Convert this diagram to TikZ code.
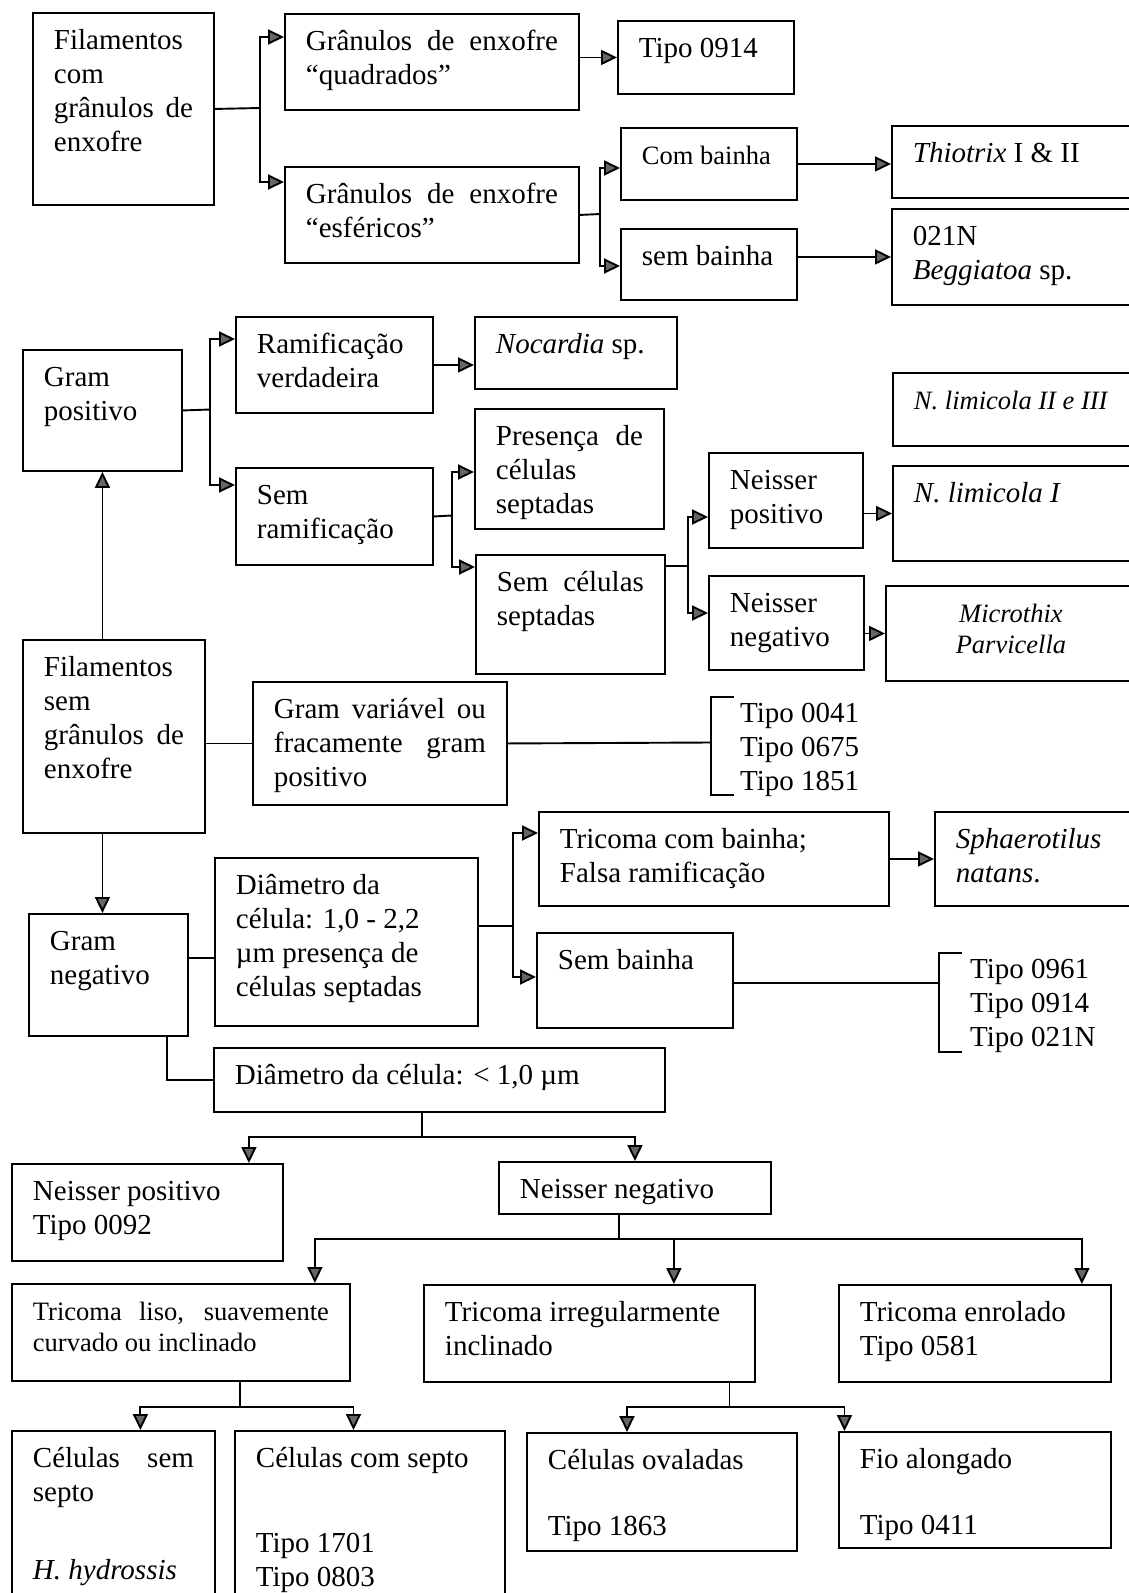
\documentclass[tikz,border=0pt]{standalone}
\usepackage{fontspec}
\setmainfont{Liberation Serif}
\usetikzlibrary{arrows.meta}

\begin{document}
\begin{tikzpicture}[x=1pt,y=-1pt,
  caixa/.style={draw,line width=1.9pt,anchor=north west,inner xsep=21pt,inner ysep=0pt,
    font=\fontsize{29}{34}\selectfont},
  lista/.style={anchor=north west,inner sep=0pt,align=left,font=\fontsize{29}{34}\selectfont},
  linha/.style={line width=1.9pt},
  seta/.style={line width=1.9pt,-{Triangle[length=16pt,width=15pt,fill=black!60]}}]
  \def\caixa#1(#2,#3)(#4,#5)#6{%
    \node[caixa] (#1) at (#2,#3) {\parbox[t][\dimexpr#5pt-#3pt\relax][t]{\dimexpr#4pt-#2pt-42pt\relax}{\rule{0pt}{37pt}#6}};}
  \def\js#1{\makebox[\linewidth][s]{#1}}   % linha justificada
  \def\pq{\fontsize{26.5}{31}\selectfont}
  \useasboundingbox (0,0) rectangle (1128,1593);

  % com enxofre
  \caixa{filcom}(32,12)(213,204){Filamentos\\com\\\js{grânulos de}\\enxofre}
  \caixa{quadr}(284,13)(578,109){\js{Grânulos de enxofre}\\“quadrados”}
  \caixa{esfer}(284,166)(578,262){\js{Grânulos de enxofre}\\“esféricos”}
  \caixa{tipoa}(617,20)(793,93){Tipo 0914}
  \caixa{combai}(620,127)(796,199){\pq Com bainha}
  \caixa{sembai}(620,228)(796,299){sem bainha}
  \caixa{thio}(891,125)(1140,197){\textit{Thiotrix} I \& II}
  \caixa{begg}(891,208)(1140,304){021N\\\textit{Beggiatoa} sp.}

  % gram positivo
  \caixa{gpos}(22,349)(181,470){Gram\\positivo}
  \caixa{ram}(235,316)(432,412){Ramificação\\verdadeira}
  \caixa{noc}(474,316)(676,388){\textit{Nocardia} sp.}
  \caixa{semram}(235,467)(432,564){Sem\\ramificação}
  \caixa{pres}(474,408)(663,528){\js{Presença de}\\células\\septadas}
  \caixa{semcel}(475,554)(664,673){\js{Sem células}\\septadas}
  \caixa{npos}(708,452)(862,547){Neisser\\positivo}
  \caixa{nneg}(708,575)(863,669){Neisser\\negativo}
  \caixa{nlimb}(892,372)(1140,445){\pq\textit{N. limicola II e III}}
  \caixa{nlima}(892,465)(1140,560){\textit{N. limicola I}}
  \caixa{micro}(885,585)(1135,680){\pq\centering\textit{Microthix}\\\textit{Parvicella}}

  % sem enxofre
  \caixa{fsem}(22,639)(204,832){Filamentos\\sem\\\js{grânulos de}\\enxofre}
  \caixa{gvar}(252,681)(506,804){\js{Gram variável ou}\\\js{fracamente gram}\\positivo}
  \caixa{gneg}(28,913)(187,1035){Gram\\negativo}
  \caixa{diam}(214,857)(477,1025){Diâmetro da\\célula: 1,0 - 2,2\\µm presença de\\células septadas}
  \caixa{trbai}(538,811)(888,905){Tricoma com bainha;\\Falsa ramificação}
  \caixa{sphae}(934,811)(1140,905){\textit{Sphaerotilus}\\\textit{natans}.}
  \caixa{sbai}(536,932)(732,1027){Sem bainha}
  \caixa{diamb}(213,1047)(664,1111){Diâmetro da célula: < 1,0 µm}
  \caixa{nposb}(11,1163)(282,1260){Neisser positivo\\Tipo 0092}
  \caixa{nnegb}(498,1161)(770,1213){Neisser negativo}
  \caixa{trliso}(11,1283)(349,1380){\pq\js{Tricoma liso, suavemente}\\curvado ou inclinado}
  \caixa{trirr}(423,1284)(754,1381){Tricoma irregularmente\\inclinado}
  \caixa{trenr}(838,1284)(1110,1381){Tricoma enrolado\\Tipo 0581}
  \caixa{csem}(11,1430)(214,1610){\js{Células sem}\\septo\\[44pt]\textit{H. hydrossis}}
  \caixa{ccom}(234,1430)(504,1610){Células com septo\\[51pt]Tipo 1701\\Tipo 0803}
  \caixa{coval}(526,1432)(796,1550){Células ovaladas\\[32pt]Tipo 1863}
  \caixa{fio}(838,1431)(1110,1547){Fio alongado\\[32pt]Tipo 0411}

  \node[lista] (tiposa) at (740,685) {\rule{0pt}{37pt}Tipo 0041\\Tipo 0675\\Tipo 1851};
  \node[lista] (tiposb) at (970,941) {\rule{0pt}{37pt}Tipo 0961\\Tipo 0914\\Tipo 021N};

  % ligacoes
  \coordinate (ja) at (260,108);
  \draw[linha] (filcom.east) -- (ja);
  \draw[seta] (ja) |- ([yshift=-24pt]quadr.north west);
  \draw[seta] (ja) |- ([yshift=-16pt]esfer.north west);
  \draw[seta] (quadr.east |- tipoa.west) -- (tipoa.west);
  \coordinate (jb) at (600,214);
  \draw[linha] (esfer.east) -- (jb);
  \draw[seta] (jb) |- ([yshift=-41pt]combai.north west);
  \draw[seta] (jb) |- ([yshift=-38pt]sembai.north west);
  \draw[seta] (combai.east) -- (combai.east -| thio.west);
  \draw[seta] (sembai.east |- begg.west) -- (begg.west);

  \coordinate (jc) at (210,409.5);
  \draw[linha] (gpos.east) -- (jc);
  \draw[seta] (jc) |- ([yshift=-23pt]ram.north west);
  \draw[seta] (jc) |- ([yshift=-18pt]semram.north west);
  \draw[seta] (ram.east) -- (ram.east -| noc.west);
  \coordinate (jd) at (452,515.5);
  \draw[linha] (semram.east) -- (jd);
  \draw[seta] (jd) |- ([yshift=-64pt]pres.north west);
  \draw[seta] (jd) |- ([yshift=-13pt]semcel.north west);
  \coordinate (je) at (688,566);
  \draw[linha] (semcel.east |- je) -- (je);
  \draw[seta] (je) |- ([yshift=-65pt]npos.north west);
  \draw[seta] (je) |- ([yshift=-38pt]nneg.north west);
  \draw[seta] (npos.east |- nlima.west) -- (nlima.west);
  \draw[seta] (nneg.east |- micro.west) -- (micro.west);

  \draw[seta] (gpos.south |- fsem.north) -- (gpos.south);
  \draw[linha] (fsem.east |- gvar.west) -- (gvar.west);
  \coordinate (ca) at (711,742.5);
  \draw[linha] (gvar.east) -- (ca);
  \draw[linha] ([xshift=23pt,yshift=45.5pt]ca) -| ([yshift=-52.5pt]ca) -- ++(23,0);

  \draw[seta] (fsem.south -| gpos.south) -- (gneg.north -| gpos.south);
  \coordinate (jg) at (200,958);
  \draw[linha] (gneg.east |- jg) -- (diam.west |- jg);
  \coordinate (jh) at (513,926);
  \draw[linha] (diam.east |- jh) -- (jh);
  \draw[seta] (jh) |- ([yshift=-22pt]trbai.north west);
  \draw[seta] (jh) |- ([yshift=-45pt]sbai.north west);
  \draw[seta] (trbai.east) -- (trbai.east -| sphae.west);
  \coordinate (cb) at (939,983);
  \draw[linha] (sbai.east |- cb) -- (cb);
  \draw[linha] ([xshift=23pt,yshift=30pt]cb) -| ([yshift=-69pt]cb) -- ++(23,0);

  \coordinate (ji) at (167,1079);
  \draw[linha] (gneg.south -| ji) |- (diamb.west);
  \coordinate (jj) at (422,1137);
  \draw[linha] (diamb.south -| jj) -- (jj);
  \draw[seta] (jj) -| ([xshift=-35pt]nposb.north east);
  \draw[seta] (jj) -| (nnegb.north);
  \coordinate (jk) at (619,1239);
  \draw[linha] (nnegb.south -| jk) -- (jk);
  \foreach \alvo/\dx in {trliso/36,trirr/82,trenr/30}
    \draw[seta] (jk) -| ([xshift=-\dx pt]\alvo.north east);
  \coordinate (jl) at (240,1407);
  \draw[linha] (trliso.south -| jl) -- (jl);
  \draw[seta] (jl) -| ([xshift=-75.5pt]csem.north east);
  \draw[seta] (jl) -| ([xshift=119.5pt]ccom.north west);
  \coordinate (jm) at (729.5,1407);
  \draw[linha] (trirr.south -| jm) -- (jm);
  \draw[seta] (jm) -| ([xshift=101pt]coval.north west);
  \draw[seta] (jm) -| ([xshift=6.5pt]fio.north west);
\end{tikzpicture}
\end{document}
